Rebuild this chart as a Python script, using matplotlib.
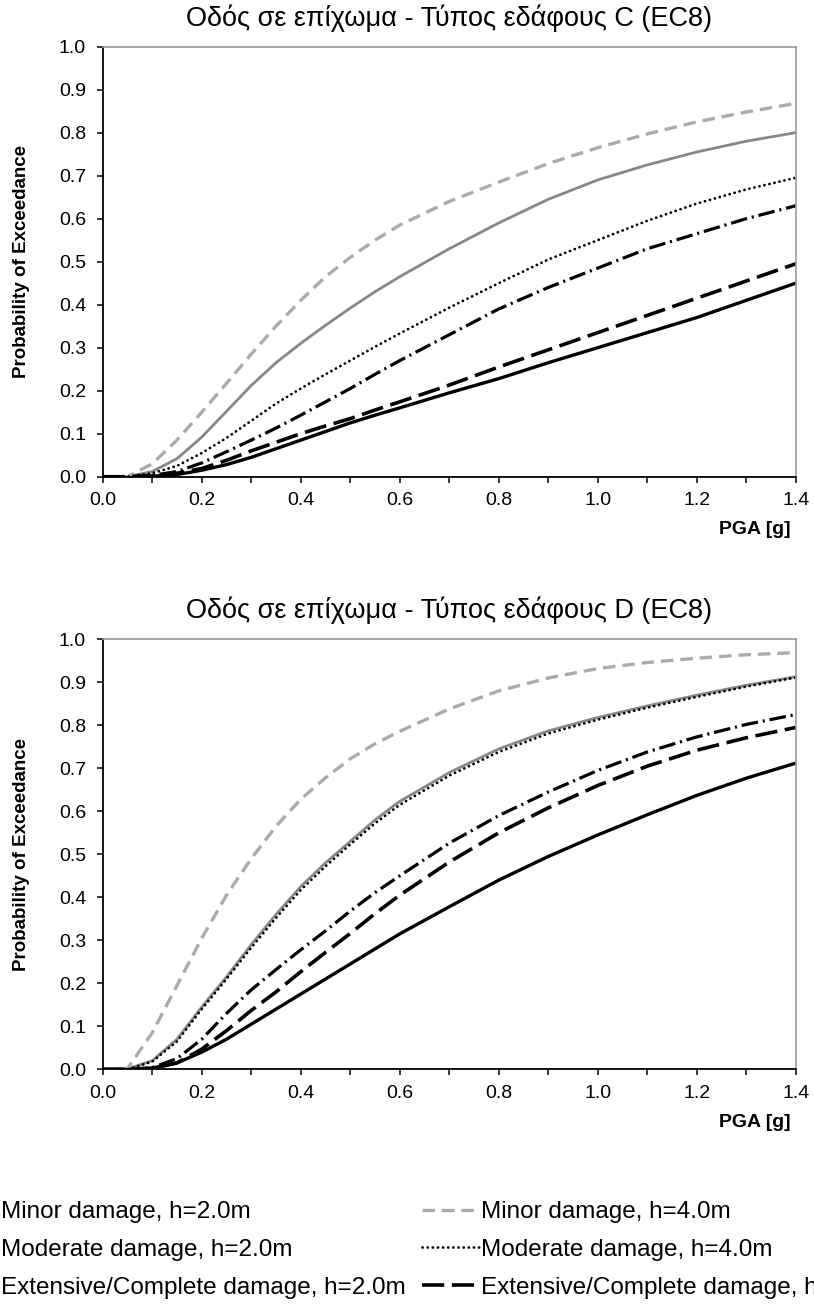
import matplotlib
matplotlib.use("Agg")
import matplotlib.pyplot as plt
from matplotlib import font_manager
from matplotlib.ticker import MultipleLocator

# PGA values [g] where the curves were read
pga = [0, 0.05, 0.1, 0.15, 0.2, 0.25, 0.3, 0.35, 0.4, 0.45, 0.5, 0.55, 0.6,
       0.7, 0.8, 0.9, 1.0, 1.1, 1.2, 1.3, 1.4]

# soil type C
c_minor_2 = [0, 0, 0.012, 0.042, 0.092, 0.152, 0.212, 0.265, 0.31, 0.352, 0.392, 0.43, 0.465,
             0.53, 0.59, 0.645, 0.69, 0.725, 0.755, 0.78, 0.80]
c_minor_4 = [0, 0, 0.03, 0.085, 0.15, 0.217, 0.285, 0.35, 0.41, 0.465, 0.51, 0.55, 0.585,
             0.64, 0.685, 0.728, 0.765, 0.797, 0.825, 0.848, 0.868]
c_moder_2 = [0, 0, 0.003, 0.012, 0.032, 0.058, 0.085, 0.113, 0.143, 0.174, 0.205, 0.238, 0.27,
             0.33, 0.39, 0.44, 0.485, 0.53, 0.565, 0.60, 0.63]
c_moder_4 = [0, 0, 0.008, 0.025, 0.055, 0.09, 0.13, 0.17, 0.205, 0.238, 0.27, 0.302, 0.333,
             0.393, 0.45, 0.505, 0.55, 0.595, 0.635, 0.668, 0.695]
c_ext_2 = [0, 0, 0.001, 0.005, 0.015, 0.028, 0.045, 0.065, 0.085, 0.105, 0.125, 0.143, 0.16,
           0.195, 0.228, 0.265, 0.30, 0.335, 0.37, 0.41, 0.45]
c_ext_4 = [0, 0, 0.002, 0.008, 0.019, 0.038, 0.06, 0.08, 0.10, 0.118, 0.135, 0.155, 0.174,
           0.213, 0.255, 0.295, 0.335, 0.375, 0.415, 0.455, 0.495]

# soil type D
d_minor_2 = [0, 0.001, 0.02, 0.07, 0.145, 0.215, 0.29, 0.36, 0.425, 0.48, 0.53, 0.58, 0.623,
             0.69, 0.745, 0.787, 0.818, 0.845, 0.87, 0.893, 0.913]
d_minor_4 = [0, 0.002, 0.085, 0.195, 0.305, 0.405, 0.49, 0.565, 0.628, 0.678, 0.722, 0.757, 0.786,
             0.838, 0.88, 0.91, 0.932, 0.946, 0.956, 0.964, 0.969]
d_moder_2 = [0, 0, 0.004, 0.025, 0.07, 0.13, 0.185, 0.232, 0.278, 0.322, 0.368, 0.411, 0.45,
             0.526, 0.59, 0.645, 0.695, 0.738, 0.773, 0.802, 0.825]
d_moder_4 = [0, 0, 0.018, 0.065, 0.14, 0.21, 0.283, 0.352, 0.417, 0.472, 0.523, 0.572, 0.615,
             0.683, 0.738, 0.781, 0.813, 0.841, 0.866, 0.89, 0.911]
d_ext_2 = [0, 0, 0.003, 0.015, 0.04, 0.07, 0.105, 0.14, 0.175, 0.21, 0.245, 0.28, 0.315,
           0.378, 0.44, 0.495, 0.545, 0.592, 0.637, 0.677, 0.712]
d_ext_4 = [0, 0, 0.002, 0.015, 0.047, 0.09, 0.137, 0.18, 0.227, 0.272, 0.316, 0.362, 0.405,
           0.482, 0.55, 0.608, 0.66, 0.705, 0.742, 0.771, 0.795]

labels = ["Minor damage, h=2.0m", "Moderate damage, h=2.0m", "Extensive/Complete damage, h=2.0m",
          "Minor damage, h=4.0m", "Moderate damage, h=4.0m", "Extensive/Complete damage, h=4.0m"]
titles = ["Οδός σε επίχωμα - Τύπος εδάφους C (EC8)", "Οδός σε επίχωμα - Τύπος εδάφους D (EC8)"]

# line styles, same order as labels
styles = [
    dict(color="#878787", lw=2.0, ls="-"),
    dict(color="black", lw=2.3, ls=(0, (12, 3.5, 1.5, 3.5))),
    dict(color="black", lw=2.4, ls="-"),
    dict(color="#ababab", lw=2.4, ls=(0, (9, 5))),
    dict(color="black", lw=2.0, ls=(0, (0.1, 3.6)), dash_capstyle="round"),
    dict(color="black", lw=2.6, ls=(0, (16, 5.5))),
]

plt.rcParams["lines.scale_dashes"] = False
plt.rcParams["font.family"] = ["Liberation Sans", "DejaVu Sans"]

names = {f.name for f in font_manager.fontManager.ttflist}
narrow = "Liberation Sans Narrow" in names
big_font = ["Liberation Sans Narrow", "Liberation Sans"] if narrow else ["Liberation Sans"]
big_size = 21 if narrow else 17.5
title_size = 23 if narrow else 19.5

fig = plt.figure(figsize=(8.14, 13.06), dpi=100)
ax1 = fig.add_axes([0.1262, 0.635, 0.8514, 0.3293])
ax2 = fig.add_axes([0.1262, 0.1812, 0.8514, 0.3293])

panels = [(ax1, [c_minor_2, c_moder_2, c_ext_2, c_minor_4, c_moder_4, c_ext_4]),
          (ax2, [d_minor_2, d_moder_2, d_ext_2, d_minor_4, d_moder_4, d_ext_4])]

for (ax, series), title in zip(panels, titles):
    for vals, st, lab in zip(series, styles, labels):
        ax.plot(pga, vals, label=lab, **st)
    ax.set_xlim(0, 1.4)
    ax.set_ylim(0, 1.0)
    ax.xaxis.set_major_locator(MultipleLocator(0.2))
    ax.xaxis.set_minor_locator(MultipleLocator(0.1))
    ax.yaxis.set_major_locator(MultipleLocator(0.1))
    ax.xaxis.set_major_formatter(plt.FormatStrFormatter("%.1f"))
    ax.yaxis.set_major_formatter(plt.FormatStrFormatter("%.1f"))
    ax.tick_params(axis="both", which="both", direction="out", length=4, width=1.1,
                   labelsize=14)
    ax.tick_params(axis="y", pad=8)
    ax.tick_params(axis="x", pad=7)
    for side in ["top", "right"]:
        ax.spines[side].set_color("#9a9a9a")
        ax.spines[side].set_linewidth(1.2)
    for side in ["left", "bottom"]:
        ax.spines[side].set_linewidth(1.3)
    ax.text(0.5, 1.067, title, transform=ax.transAxes, ha="center", va="center",
            fontsize=title_size, family=big_font)
    ax.text(-0.1165, 0.5, "Probability of Exceedance", transform=ax.transAxes,
            rotation=90, ha="center", va="center", fontsize=13.5, fontweight="bold")
    ax.text(0.992, -0.123, "PGA [g]", transform=ax.transAxes, ha="right", va="center",
            fontsize=14, fontweight="bold")

# legend below the plots, its left column of handles runs off the page
handles, labs = ax2.get_legend_handles_labels()
fig.legend(handles, labs, ncol=2, loc="upper left", bbox_to_anchor=(-0.0719, 0.0804),
           frameon=False, borderpad=0, borderaxespad=0, handlelength=2.35,
           handletextpad=0.1, columnspacing=0.66, labelspacing=0.65,
           prop=dict(family=big_font, size=big_size))

fig.savefig("out.png", dpi=100)
